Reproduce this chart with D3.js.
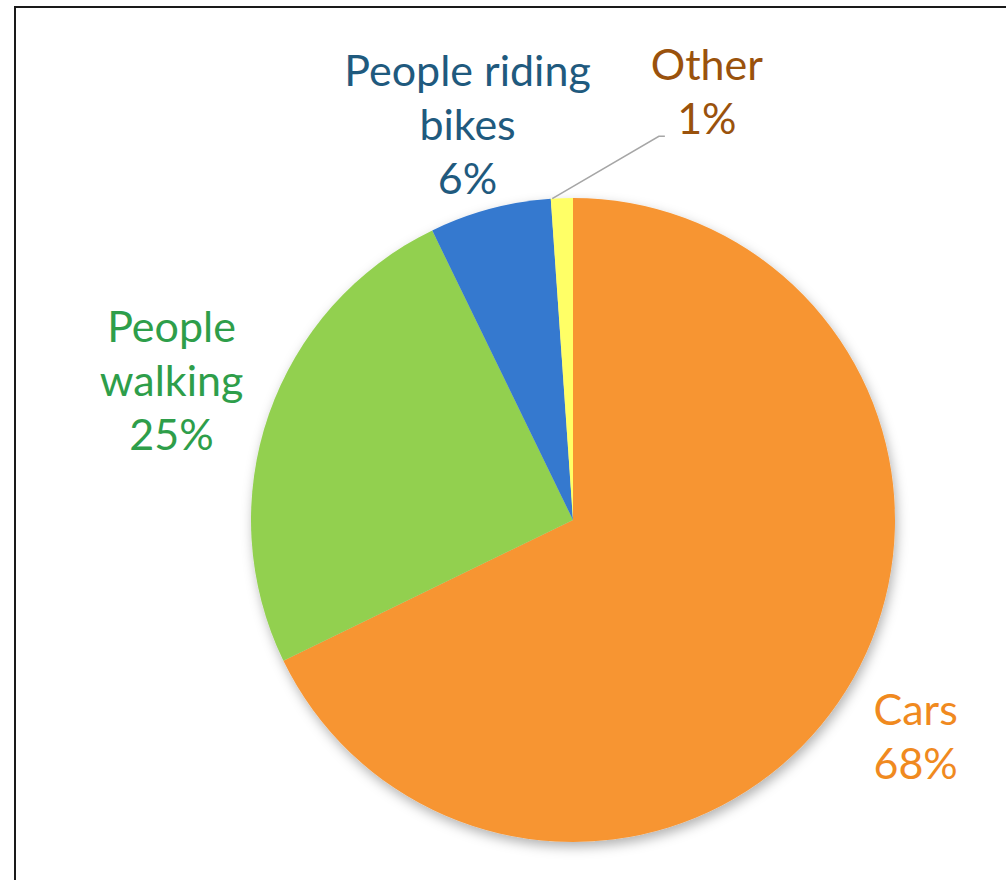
<!DOCTYPE html>
<html>
<head>
<meta charset="utf-8">
<script src="https://cdn.jsdelivr.net/npm/d3@7"></script>
<style>
  html, body { margin: 0; padding: 0; background: #fff; }
  #chart { width: 1006px; height: 880px; }
</style>
</head>
<body>
<div id="chart"></div>
<script>
// Pie chart - share of trips by mode

const categories = ["Cars", "People walking", "People riding bikes", "Other"];
const shares = [67.8, 25.0, 6.1, 1.1];
const percentLabels = ["68%", "25%", "6%", "1%"];
const labelLines = [["Cars"], ["People", "walking"], ["People riding", "bikes"], ["Other"]];
const sliceColors = ["#F79533", "#92D050", "#3579CF", "#FFFF66"];
const textColors = ["#F08A1F", "#2E9E4A", "#1F5A7E", "#9A520C"];

const width = 1006;
const height = 880;
const cx = 573;
const cy = 520;
const radius = 322;
const lineHeight = 54;

const svg = d3.select("#chart")
  .append("svg")
  .attr("width", width)
  .attr("height", height);

// drop shadow under the pie
const defs = svg.append("defs");
const shadow = defs.append("filter")
  .attr("id", "pie-shadow")
  .attr("x", "-20%").attr("y", "-20%")
  .attr("width", "140%").attr("height", "140%");
shadow.append("feDropShadow")
  .attr("dx", 2)
  .attr("dy", 5)
  .attr("stdDeviation", 6)
  .attr("flood-color", "#000")
  .attr("flood-opacity", 0.3);

// frame
svg.append("path")
  .attr("d", `M15,${height + 5} L15,7 L${width + 5},7`)
  .attr("fill", "none")
  .attr("stroke", "#1a1a1a")
  .attr("stroke-width", 2);

const data = categories.map((c, i) => ({
  name: c,
  value: shares[i],
  pct: percentLabels[i],
  lines: labelLines[i].concat([percentLabels[i]]),
  fill: sliceColors[i],
  text: textColors[i]
}));

const pie = d3.pie()
  .sort(null)
  .value(d => d.value);

const arcs = pie(data);

const arc = d3.arc()
  .innerRadius(0)
  .outerRadius(radius);

const labelArc = d3.arc()
  .innerRadius(radius * 1.27)
  .outerRadius(radius * 1.27);

const g = svg.append("g")
  .attr("transform", `translate(${cx},${cy})`);

g.append("g")
  .attr("filter", "url(#pie-shadow)")
  .selectAll("path")
  .data(arcs)
  .enter()
  .append("path")
  .attr("d", arc)
  .attr("fill", d => d.data.fill);

// label anchor: centroid on outer label ring, small slices pushed out with a leader
function labelPos(d) {
  const [x, y] = labelArc.centroid(d);
  if (d.data.name === "Other") return [x + 148, y - 19];
  if (d.data.name === "People walking") return [x - 15, y - 5];
  if (d.data.name === "Cars") return [x - 4, y];
  return [x, y];
}

const leaderArcs = arcs.filter(d => d.data.name === "Other");
g.selectAll("polyline.leader")
  .data(leaderArcs)
  .enter()
  .append("polyline")
  .attr("class", "leader")
  .attr("fill", "none")
  .attr("stroke", "#a6a6a6")
  .attr("stroke-width", 1.5)
  .attr("points", d => {
    const a = (d.startAngle + d.endAngle) / 2 - 0.03;
    const p0 = [Math.sin(a) * radius, -Math.cos(a) * radius];
    const [lx, ly] = labelPos(d);
    const p1 = [lx - 48, ly + 44];
    const p2 = [p1[0] + 6, p1[1]];
    return [p0, p1, p2].map(p => p.join(",")).join(" ");
  });

const labels = g.selectAll("text.slice-label")
  .data(arcs)
  .enter()
  .append("text")
  .attr("class", "slice-label")
  .attr("text-anchor", "middle")
  .attr("fill", d => d.data.text)
  .style("font-family", "'Lato', 'Noto Sans', sans-serif")
  .style("font-size", "43px")
  .attr("transform", d => `translate(${labelPos(d).join(",")})`);

labels.each(function (d) {
  const n = d.data.lines.length;
  const t = d3.select(this);
  d.data.lines.forEach((line, i) => {
    t.append("tspan")
      .attr("x", 0)
      .attr("y", (i - (n - 1) / 2) * lineHeight + 15)
      .text(line);
  });
});
</script>
</body>
</html>
